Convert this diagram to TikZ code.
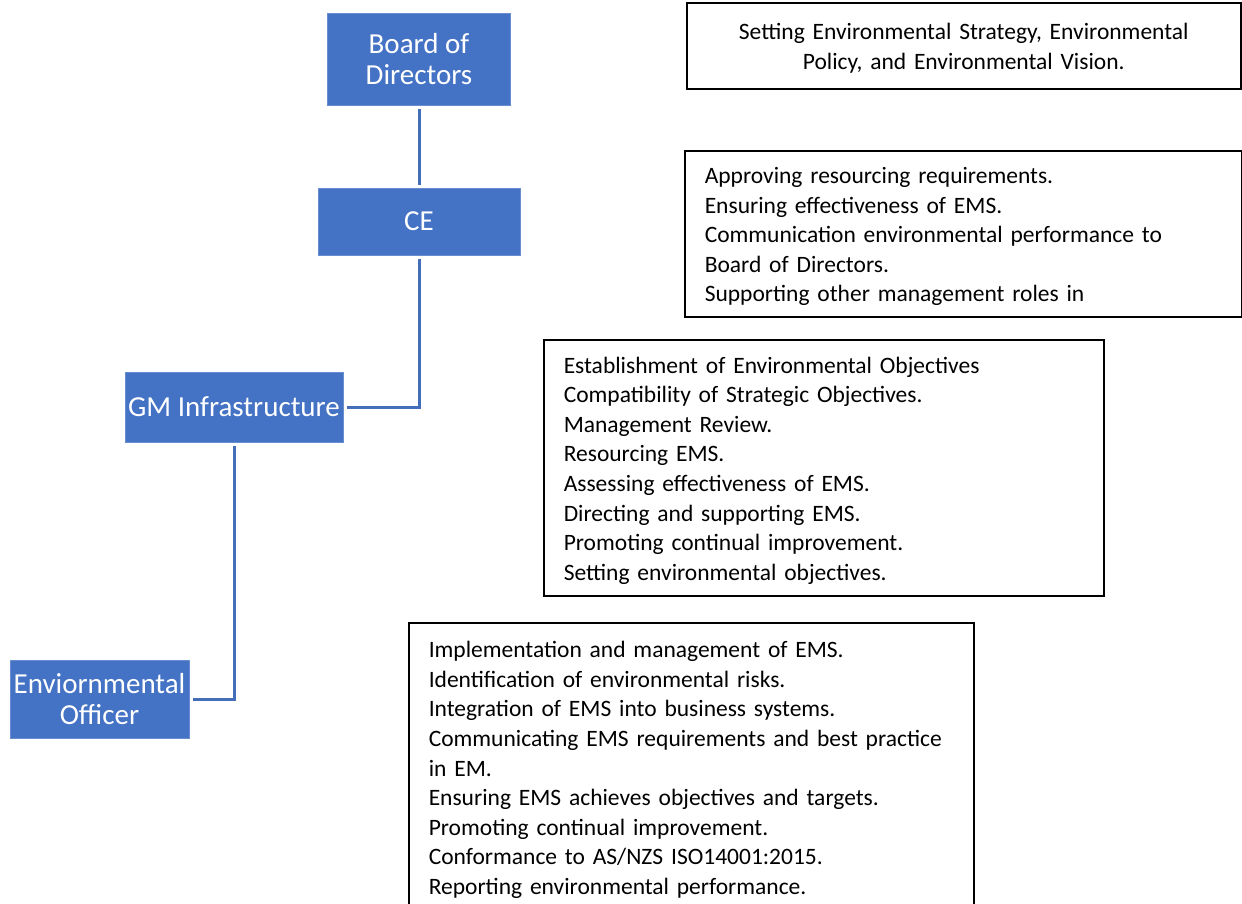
\documentclass[tikz,border=0pt]{standalone}
\usepackage{fontspec}
\setmainfont{Carlito}
\newlength{\du}
\setlength{\du}{1pt}
\definecolor{orgfill}{rgb}{0.266667, 0.447059, 0.768627}
\definecolor{orgline}{rgb}{0.266667, 0.431373, 0.729412}
\newcommand{\firstline}{\rule{0pt}{26.7\du}}
\tikzset{
  orgbox/.style={fill=orgfill, draw=orgfill!80!white, line width=1\du, text=white,
    inner sep=0pt, align=center, font=\fontsize{29}{31.7}\selectfont},
  notebox/.style={draw=black, line width=1.5\du, anchor=north west, inner xsep=20\du,
    inner ysep=0pt, font=\fontsize{23.5}{29.6}\selectfont},
  orglink/.style={draw=orgline, line width=3\du, shorten <=3\du, shorten >=3\du}
}

\begin{document}
\begin{tikzpicture}
\pgftransformxscale{1.000000}
\pgftransformyscale{-1.000000}
\useasboundingbox (0\du,0\du) rectangle (1242\du,903\du);
\clip (0\du,0\du) rectangle (1242\du,903\du);
% org chart
\node[orgbox, minimum width=183\du, minimum height=92\du] (board) at (419\du,59\du) {Board of\\Directors};
\node[orgbox, minimum width=202\du, minimum height=67\du] (ce) at (419\du,221.5\du) {CE};
\node[orgbox, minimum width=218\du, minimum height=70\du] (gm) at (234\du,407\du) {GM Infrastructure};
\node[orgbox, minimum width=179\du, minimum height=78\du] (eo) at (99.5\du,699\du) {Enviornmental\\Officer};
\draw[orglink] (board.south) -- (ce.north);
\draw[orglink] (ce.south) |- (gm.east);
\draw[orglink] (gm.south) |- (eo.east);
% role descriptions
\node[notebox, text width=514\du, align=center, minimum height=86\du] (boardroles) at (686\du,2\du)
  {\firstline Setting Environmental Strategy, Environmental\\Policy, and Environmental Vision.\strut};
\node[notebox, text width=517\du, align=left, minimum height=166\du] (ceroles) at (684\du,150\du)
  {\firstline Approving resourcing requirements.\\
   Ensuring effectiveness of EMS.\\
   Communication environmental performance to\\
   Board of Directors.\\
   Supporting other management roles in\strut};
\node[notebox, text width=520\du, align=left, minimum height=256\du] (gmroles) at (543\du,339\du)
  {\firstline Establishment of Environmental Objectives\\
   Compatibility of Strategic Objectives.\\
   Management Review.\\
   Resourcing EMS.\\
   Assessing effectiveness of EMS.\\
   Directing and supporting EMS.\\
   Promoting continual improvement.\\
   Setting environmental objectives.\strut};
\node[notebox, text width=525\du, align=left, minimum height=289\du] (eoroles) at (408\du,622\du)
  {\firstline Implementation and management of EMS.\\
   Identification of environmental risks.\\
   Integration of EMS into business systems.\\
   Communicating EMS requirements and best practice\\
   in EM.\\
   Ensuring EMS achieves objectives and targets.\\
   Promoting continual improvement.\\
   Conformance to AS/NZS ISO14001:2015.\\
   Reporting environmental performance.\strut};
\end{tikzpicture}
\end{document}
